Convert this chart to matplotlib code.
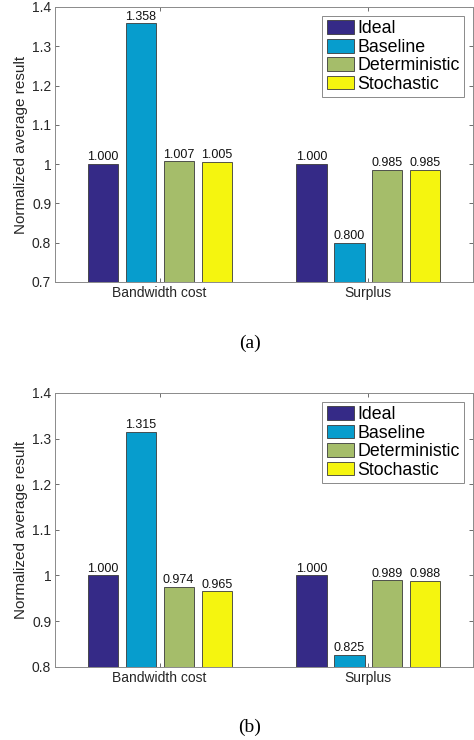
import numpy as np
import matplotlib
matplotlib.use("Agg")
import matplotlib.pyplot as plt

groups = ["Bandwidth cost", "Surplus"]
methods = ["Ideal", "Baseline", "Deterministic", "Stochastic"]
colors = ["#352a87", "#079dcd", "#a5bd6a", "#f5f50f"]

vals_a = [[1.000, 1.358, 1.007, 1.005],
          [1.000, 0.800, 0.985, 0.985]]
vals_b = [[1.000, 1.315, 0.974, 0.965],
          [1.000, 0.825, 0.989, 0.988]]

yticks_a = [0.7, 0.8, 0.9, 1.0, 1.1, 1.2, 1.3, 1.4]
yticks_b = [0.8, 0.9, 1.0, 1.1, 1.2, 1.3, 1.4]

plt.rcParams['font.family'] = ['Liberation Sans', 'DejaVu Sans']


def draw_panel(ax, vals, yticks, ymin):
    x = np.arange(1, len(groups) + 1)
    offsets = np.array([-1.5, -0.5, 0.5, 1.5]) * 0.182
    width = 0.145
    vals = np.array(vals)
    for j, m in enumerate(methods):
        heights = vals[:, j] - ymin
        bars = ax.bar(x + offsets[j], heights, width, bottom=ymin,
                      color=colors[j], edgecolor="#3a3a3a", linewidth=0.6,
                      label=m, zorder=2)
        for b, v in zip(bars, vals[:, j]):
            ax.text(b.get_x() + b.get_width() / 2, v + 0.002, "%.3f" % v,
                    ha="center", va="bottom", fontsize=9, color="#111111")

    ax.set_xlim(0.5, 2.5)
    ax.set_ylim(ymin, 1.4)
    ax.set_xticks(x)
    ax.set_xticklabels(groups, fontsize=10, color="#262626")
    ax.set_yticks(yticks)
    ax.set_yticklabels(["%g" % t for t in yticks], fontsize=10, color="#262626")
    ax.tick_params(direction="in", length=3, width=0.6, color="#555555",
                   top=True, right=True, pad=3)
    for sp in ax.spines.values():
        sp.set_color("#8a8a8a")
        sp.set_linewidth(0.7)
    ax.set_ylabel("Normalized average result", fontsize=11, color="#262626", labelpad=3)
    leg = ax.legend(loc="upper right", bbox_to_anchor=(0.979, 0.967),
                    borderaxespad=0, fontsize=12.8, handlelength=1.55,
                    handleheight=0.8, handletextpad=0.15, labelspacing=0.08,
                    borderpad=0.25, fancybox=False, framealpha=1)
    leg.get_frame().set_edgecolor("#8a8a8a")
    leg.get_frame().set_linewidth(0.7)


fig = plt.figure(figsize=(4.74, 7.4), dpi=100)
ax1 = fig.add_axes([0.1167, 0.619, 0.8806, 0.3716])
ax2 = fig.add_axes([0.1167, 0.099, 0.8806, 0.370])

draw_panel(ax1, vals_a, yticks_a, 0.7)
draw_panel(ax2, vals_b, yticks_b, 0.8)

fig.text(0.527, 1 - 343 / 740, "(a)", ha="center", va="center",
         fontsize=14, family=["Liberation Serif", "DejaVu Serif"])
fig.text(0.527, 1 - 727 / 740, "(b)", ha="center", va="center",
         fontsize=14, family=["Liberation Serif", "DejaVu Serif"])

fig.savefig("out.png", dpi=100)
